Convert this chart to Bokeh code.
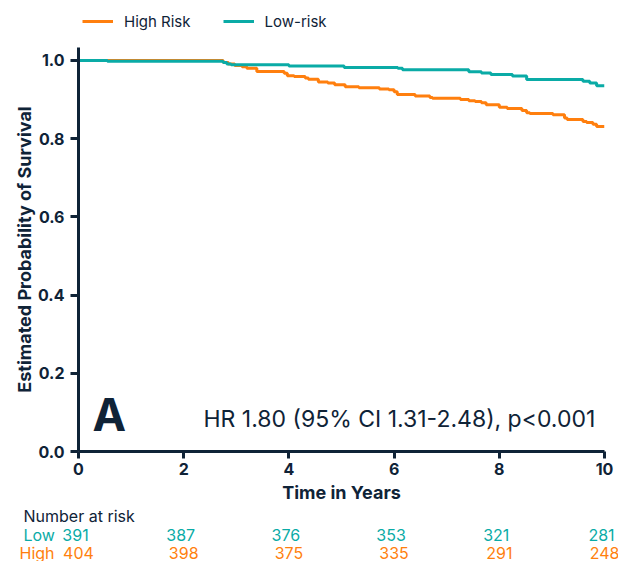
from bokeh.plotting import figure
from bokeh.layouts import column
from bokeh.models import Range1d, FixedTicker, Label, Legend, LegendItem
from bokeh.core.properties import value
from bokeh.embed import file_html
from bokeh.resources import INLINE

# ---- data ----
high_t = [0, 2.75, 2.85, 2.97, 3.11, 3.20, 3.39, 3.91, 3.97, 4.10, 4.31, 4.37, 4.56, 4.74,
          4.87, 5.07, 5.33, 5.72, 5.90, 6.00, 6.06, 6.40, 6.68, 6.73, 7.26, 7.42, 7.54, 7.66,
          7.75, 8.00, 8.15, 8.43, 8.52, 8.58, 9.02, 9.24, 9.29, 9.59, 9.66, 9.78, 9.85, 10.0]
high_s = [1.0, 0.995, 0.991, 0.987, 0.984, 0.980, 0.972, 0.967, 0.961, 0.959, 0.955, 0.952,
          0.945, 0.942, 0.938, 0.933, 0.930, 0.927, 0.925, 0.920, 0.913, 0.909, 0.905, 0.903,
          0.900, 0.897, 0.895, 0.892, 0.887, 0.880, 0.877, 0.872, 0.866, 0.864, 0.861, 0.853,
          0.849, 0.844, 0.841, 0.837, 0.831, 0.831]
low_t = [0, 0.55, 2.75, 2.82, 2.90, 4.00, 5.05, 6.07, 6.16, 7.42, 7.66, 7.84, 8.25, 8.52,
         9.59, 9.72, 9.85, 10.0]
low_s = [1.0, 0.998, 0.995, 0.991, 0.989, 0.986, 0.982, 0.980, 0.976, 0.971, 0.968, 0.964,
         0.960, 0.951, 0.947, 0.942, 0.935, 0.935]

risk_times = [0, 2, 4, 6, 8, 10]
low_risk = [391, 387, 376, 353, 321, 281]
high_risk = [404, 398, 375, 335, 291, 248]

x_ticks = [0, 2, 4, 6, 8, 10]
y_ticks = [0.0, 0.2, 0.4, 0.6, 0.8, 1.0]
y_tick_labels = ["0.0", "0.2", "0.4", "0.6", "0.8", "1.0"]

series_names = ["High Risk", "Low-risk"]
row_names = ["Low", "High"]
table_title = "Number at risk"
hr_text = "HR 1.80 (95% CI 1.31-2.48), p<0.001"
panel_letter = "A"

# ---- layout / style ----
FONT = "Inter"
DARK = "#0F2337"
ORANGE = "#FF7F0E"
TEAL = "#0AABA6"

W = 618
LEG_H = 47                      # legend strip above the plot
FRAME_L, FRAME_R = 78, 604      # page px
FRAME_T, FRAME_B = 47, 453      # page px
MAIN_BOTTOM = 505
TABLE_H = 561 - MAIN_BOTTOM
PX_PER_YEAR = (FRAME_R - FRAME_L) / 10.0
PX_PER_UNIT = 393.0
Y_TOP = 1.0 + (60 - FRAME_T) / PX_PER_UNIT


def bare(fig):
    fig.outline_line_color = None
    fig.xgrid.grid_line_color = None
    fig.ygrid.grid_line_color = None
    fig.frame_align = False


# ---- legend strip (series drawn out of view; only their legend swatches show) ----
lg = figure(width=W, height=LEG_H, output_backend="svg", toolbar_location=None,
            x_range=Range1d(0, 10), y_range=Range1d(2, 3),
            x_axis_location=None, y_axis_location=None,
            min_border_left=0, min_border_right=0, min_border_top=0, min_border_bottom=0)
bare(lg)
sw_high = lg.step(high_t, high_s, mode="after", line_color=ORANGE, line_width=3)
sw_low = lg.step(low_t, low_s, mode="after", line_color=TEAL, line_width=3)
legend = Legend(items=[LegendItem(label=series_names[0], renderers=[sw_high]),
                       LegendItem(label=series_names[1], renderers=[sw_low])],
                orientation="horizontal", location=(82, 16),
                padding=0, margin=0, spacing=32, glyph_width=31, glyph_height=20,
                label_standoff=11, label_height=20,
                label_text_font=FONT, label_text_font_size="15px", label_text_color=DARK,
                border_line_color=None, background_fill_alpha=0)
lg.add_layout(legend, "center")

# ---- main KM plot ----
p = figure(width=W, height=MAIN_BOTTOM - LEG_H, output_backend="svg", toolbar_location=None,
           x_range=Range1d(0, 10), y_range=Range1d(0, Y_TOP),
           min_border_left=FRAME_L, min_border_right=W - FRAME_R,
           min_border_top=FRAME_T - LEG_H, min_border_bottom=MAIN_BOTTOM - FRAME_B)
bare(p)

p.step(high_t, high_s, mode="after", line_color=ORANGE, line_width=3)
p.step(low_t, low_s, mode="after", line_color=TEAL, line_width=3)

for ax in (p.xaxis[0], p.yaxis[0]):
    ax.axis_line_color = DARK
    ax.axis_line_width = 3
    ax.major_tick_line_color = DARK
    ax.major_tick_line_width = 3
    ax.minor_tick_line_color = None
    ax.major_tick_in = 0
    ax.major_label_text_font = FONT
    ax.major_label_text_font_style = "bold"
    ax.major_label_text_font_size = "16px"
    ax.major_label_text_color = DARK
    ax.axis_label_text_font = FONT
    ax.axis_label_text_font_style = "bold"
    ax.axis_label_text_font_size = "18px"
    ax.axis_label_text_color = DARK

p.xaxis.ticker = FixedTicker(ticks=x_ticks)
p.xaxis.major_tick_out = 7
p.xaxis.major_label_standoff = 4
p.xaxis.axis_label = "Time in Years"
p.xaxis.axis_label_standoff = 4

p.yaxis.ticker = FixedTicker(ticks=y_ticks)
p.yaxis.major_label_overrides = {t: s for t, s in zip(y_ticks, y_tick_labels)}
p.yaxis.major_tick_out = 8
p.yaxis.major_label_standoff = 6
p.yaxis.axis_label = "Estimated Probability of Survival"
p.yaxis.axis_label_standoff = 0

p.add_layout(Label(x=(92 - FRAME_L) / PX_PER_YEAR, y=(FRAME_B - 416) / PX_PER_UNIT,
                   text=panel_letter, text_font=FONT, text_font_style="bold",
                   text_font_size="45px", text_color=DARK, text_baseline="alphabetic"))
p.add_layout(Label(x=(203 - FRAME_L) / PX_PER_YEAR, y=(FRAME_B - 420) / PX_PER_UNIT,
                   text=hr_text, text_font=FONT, text_font_size="23px",
                   text_color=DARK, text_baseline="alphabetic"))

# ---- number-at-risk table ----
t = figure(width=W, height=TABLE_H, output_backend="svg", toolbar_location=None,
           x_range=Range1d(-FRAME_L / PX_PER_YEAR, (W - FRAME_L) / PX_PER_YEAR),
           y_range=Range1d(TABLE_H, 0),
           x_axis_location=None, y_axis_location=None,
           min_border_left=0, min_border_right=0, min_border_top=0, min_border_bottom=0)
bare(t)

TS = "16px"
ROW_Y = [515 - MAIN_BOTTOM, 534 - MAIN_BOTTOM, 552 - MAIN_BOTTOM]
t.text(x=[(23 - FRAME_L) / PX_PER_YEAR], y=[ROW_Y[0]], text=[table_title],
       text_font=value(FONT), text_font_size=TS, text_color=DARK,
       text_baseline="middle", text_align="left")
t.text(x=[(23 - FRAME_L) / PX_PER_YEAR], y=[ROW_Y[1]], text=[row_names[0]],
       text_font=value(FONT), text_font_size=TS, text_color=TEAL,
       text_baseline="middle", text_align="left")
t.text(x=[(19 - FRAME_L) / PX_PER_YEAR], y=[ROW_Y[2]], text=[row_names[1]],
       text_font=value(FONT), text_font_size=TS, text_color=ORANGE,
       text_baseline="middle", text_align="left")
t.text(x=risk_times, y=[ROW_Y[1]] * len(risk_times), text=[str(n) for n in low_risk],
       x_offset=-3, text_font=value(FONT), text_font_size=TS, text_color=TEAL,
       text_baseline="middle", text_align="center")
t.text(x=risk_times, y=[ROW_Y[2]] * len(risk_times), text=[str(n) for n in high_risk],
       text_font=value(FONT), text_font_size=TS, text_color=ORANGE,
       text_baseline="middle", text_align="center")

layout = column(lg, p, t, spacing=0)
open("out.html", "w").write(file_html(layout, INLINE))
